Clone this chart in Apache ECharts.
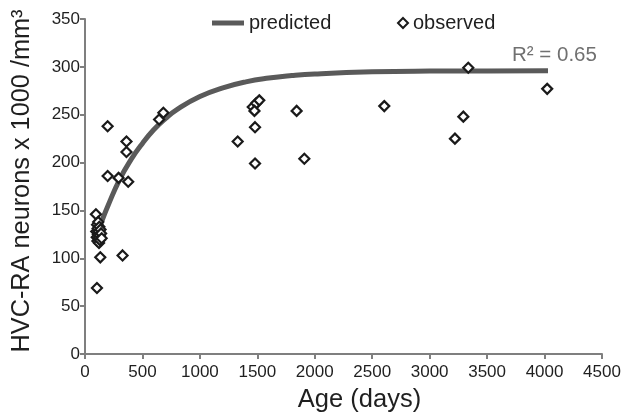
<!DOCTYPE html>
<html>
<head>
<meta charset="utf-8">
<script src="https://cdn.jsdelivr.net/npm/echarts@6/dist/echarts.min.js"></script>
<style>
  html, body { margin: 0; padding: 0; background: #fff; }
  #chart { width: 628px; height: 418px; }
</style>
</head>
<body>
<div id="chart"></div>
<script>
// Observed HVC-RA neuron counts: [age in days, neurons x 1000 / mm3]
const observed = [
  [95, 146], [104, 69], [133, 101], [327, 103],
  [98, 128], [102, 122], [105, 135], [108, 118], [110, 131], [112, 125],
  [115, 138], [118, 121], [120, 128], [122, 116], [125, 133], [128, 124],
  [130, 119], [135, 130], [140, 126], [145, 121],
  [197, 238], [361, 222], [361, 211], [197, 186], [292, 184], [376, 180],
  [645, 245], [682, 252],
  [1329, 222], [1460, 258], [1490, 262], [1517, 265], [1475, 254],
  [1480, 237], [1480, 199], [1842, 254], [1909, 204],
  [2605, 259], [3293, 248], [3220, 225], [3336, 299], [4023, 277]
];

// Predicted growth curve sampled along the age axis
const predictedAge = [110, 150, 200, 300, 400, 500, 600, 700, 800, 1000, 1200, 1400, 1600, 1800, 2000, 2500, 3000, 3500, 4030];
const predictedValue = [127, 140, 155, 182, 203, 220, 234.5, 246, 255.4, 269, 278, 284.3, 288.3, 290.9, 292.6, 294.8, 295.6, 295.8, 296];

const xTicks = { min: 0, max: 4500, interval: 500 };
const yTicks = { min: 0, max: 350, interval: 50 };
const fitLabel = 'R\u00B2 = 0.65';

const predicted = predictedAge.map((a, i) => [a, predictedValue[i]]);

const chart = echarts.init(document.getElementById('chart'), null, { renderer: 'canvas' });
const axisColor = '#7f7f7f';
const textColor = '#1f1f1f';
const font = 'Liberation Sans, Arial, sans-serif';

chart.setOption({
  animation: false,
  backgroundColor: '#fff',
  textStyle: { fontFamily: font },
  grid: { left: 85, right: 26, top: 19, bottom: 63 },
  legend: [
    {
      data: ['predicted'],
      left: 207, top: 8,
      icon: 'rect', itemWidth: 32, itemHeight: 5, itemGap: 8,
      textStyle: { fontSize: 20, color: textColor, fontFamily: font }
    },
    {
      data: ['observed'],
      left: 392, top: 8,
      itemWidth: 10, itemHeight: 10, itemGap: 3,
      textStyle: { fontSize: 20, color: textColor, fontFamily: font }
    }
  ],
  xAxis: {
    type: 'value',
    min: xTicks.min, max: xTicks.max, interval: xTicks.interval,
    name: 'Age (days)',
    nameLocation: 'middle',
    nameGap: 33,
    nameTextStyle: { fontSize: 25.5, color: textColor, fontFamily: font, padding: [0, 0, 0, 32] },
    axisLine: { show: true, lineStyle: { color: axisColor, width: 2 } },
    axisTick: { show: true, length: 5, lineStyle: { color: axisColor, width: 2 } },
    axisLabel: { fontSize: 17, color: textColor, margin: 10, fontFamily: font, formatter: v => String(v) },
    splitLine: { show: false }
  },
  yAxis: {
    type: 'value',
    min: yTicks.min, max: yTicks.max, interval: yTicks.interval,
    name: 'HVC-RA neurons x 1000 /mm\u00B3',
    nameLocation: 'middle',
    nameGap: 50,
    nameTextStyle: { fontSize: 25.3, color: textColor, fontFamily: font, padding: [0, 0, 0, 11] },
    axisLine: { show: true, lineStyle: { color: axisColor, width: 2 } },
    axisTick: { show: true, length: 5, lineStyle: { color: axisColor, width: 2 } },
    axisLabel: { fontSize: 17, color: textColor, margin: 5, fontFamily: font, formatter: v => String(v) },
    splitLine: { show: false }
  },
  graphic: [
    {
      type: 'text',
      left: 512, top: 45,
      style: { text: fitLabel, fontSize: 20.5, fill: '#707070', fontFamily: font }
    }
  ],
  series: [
    {
      name: 'predicted',
      type: 'line',
      data: predicted,
      smooth: true,
      showSymbol: false,
      symbol: 'none',
      lineStyle: { color: '#5a5a5a', width: 5 },
      itemStyle: { color: '#5a5a5a' },
      z: 2
    },
    {
      name: 'observed',
      type: 'scatter',
      data: observed,
      symbol: 'diamond',
      symbolSize: 10,
      itemStyle: { color: '#ffffff', borderColor: '#1a1a1a', borderWidth: 2.2, opacity: 1 },
      z: 3
    }
  ]
});
</script>
</body>
</html>
